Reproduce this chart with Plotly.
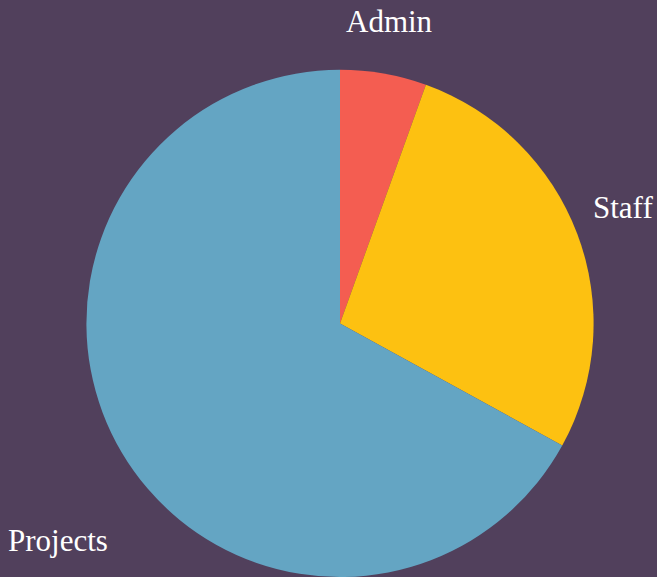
import plotly.graph_objects as go

categories = ["Admin", "Staff", "Projects"]
values = [5.5, 27.5, 67.0]
colors = ["#f45d51", "#fdc111", "#64a5c3"]

label_pos = {"Admin": (0.5936, 0.962), "Staff": (0.948, 0.641), "Projects": (0.088, 0.064)}

fig = go.Figure(go.Pie(
    labels=categories,
    values=values,
    marker=dict(colors=colors, line=dict(width=0)),
    sort=False,
    direction="clockwise",
    rotation=0,
    textinfo="none",
    hoverinfo="label+value",
    showlegend=False,
    domain=dict(x=[86/657, 594/657], y=[0, 0.879]),
))

for c in categories:
    x, y = label_pos[c]
    fig.add_annotation(x=x, y=y, xref="paper", yref="paper", text=c, showarrow=False,
                       xanchor="center", yanchor="middle",
                       font=dict(family="Liberation Serif, serif", size=31, color="#ffffff"))

fig.update_layout(
    width=657, height=577,
    margin=dict(l=0, r=0, t=0, b=0),
    paper_bgcolor="#51405c",
    plot_bgcolor="#51405c",
)

fig.write_html("out.html", config={"displayModeBar": False},
               post_script="document.body.style.margin='0';document.body.style.background='#51405c';document.documentElement.style.overflow='hidden';")
